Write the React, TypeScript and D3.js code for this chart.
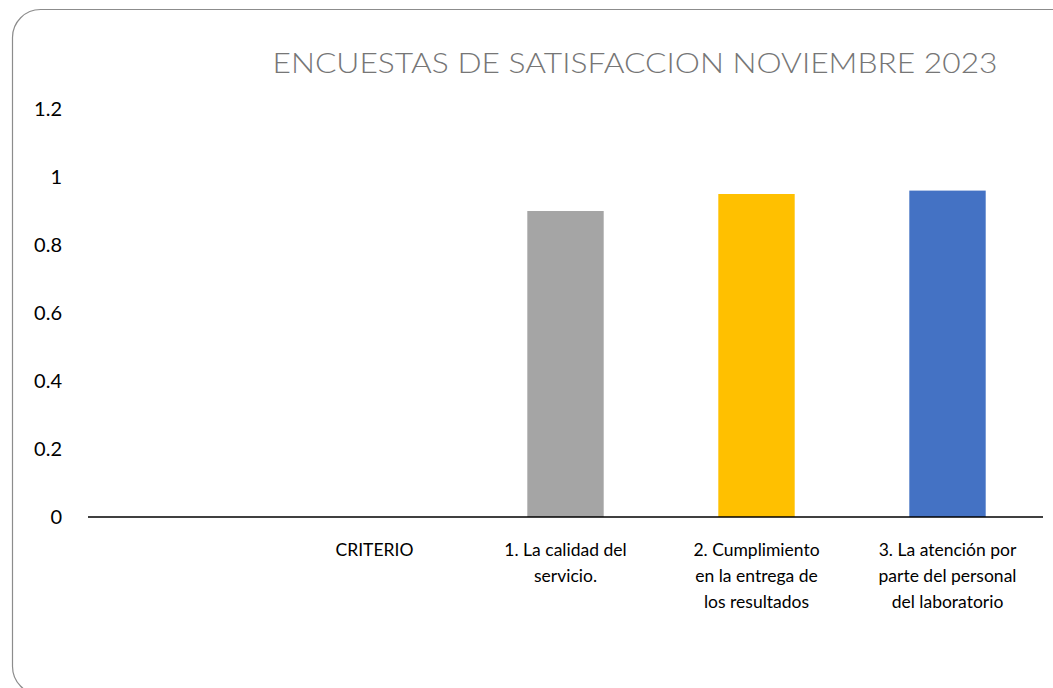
import React from "react";
import * as d3 from "d3";

const categories = ["", "CRITERIO", "1. La calidad del servicio.", "2. Cumplimiento en la entrega de los resultados", "3. La atención por parte del personal del laboratorio"];
const categoryLines = [[""], ["CRITERIO"], ["1. La calidad del", "servicio."], ["2. Cumplimiento", "en la entrega de", "los resultados"], ["3. La atención por", "parte del personal", "del laboratorio"]];
const values: (number | null)[] = [null, null, 0.9, 0.95, 0.96];
const barColors = ["#A5A5A5", "#A5A5A5", "#A5A5A5", "#FFC000", "#4472C4"];
const yTicks = [0, 0.2, 0.4, 0.6, 0.8, 1, 1.2];
const title = "ENCUESTAS DE SATISFACCION NOVIEMBRE 2023";

export default function App() {
  const W = 1053, H = 688;
  const font = "Lato, 'Noto Sans', sans-serif";
  const x = d3.scaleBand<string>().domain(categories).range([88, 1043]).paddingInner(0.6).paddingOuter(0.3);
  const y = d3.scaleLinear().domain([0, 1.2]).range([517, 109]);
  return (
    <svg width={W} height={H} style={{ position: "absolute", left: 0, top: 0 }} fontFamily={font}>
      <rect x={0} y={0} width={W} height={H} fill="#fff" />
      <rect x={12.5} y={9.5} width={1100} height={685} rx={28} ry={28} fill="#fff" stroke="#8c8c8c" strokeWidth={1.2} />
      <text x={635} y={73} textAnchor="middle" fontSize={28} fontWeight={300} fill="#767676" textLength={725} lengthAdjust="spacingAndGlyphs">{title}</text>
      {yTicks.map((t) => (
        <text key={t} x={62} y={y(t)} dy="0.35em" textAnchor="end" fontSize={20} fill="#000">{d3.format("")(t)}</text>
      ))}
      {categories.map((c, i) => {
        const v = values[i];
        if (v == null) return null;
        return <rect key={c} x={x(c)!} y={y(v)} width={x.bandwidth()} height={y(0) - y(v)} fill={barColors[i]} />;
      })}
      <line x1={88} x2={1043} y1={y(0)} y2={y(0)} stroke="#000" strokeWidth={1.3} />
      {categories.map((c, i) => (
        <text key={"l" + i} x={x(c)! + x.bandwidth() / 2} y={556} textAnchor="middle" fontSize={17.5} fill="#000">
          {categoryLines[i].map((ln, j) => (
            <tspan key={j} x={x(c)! + x.bandwidth() / 2} dy={j === 0 ? 0 : 26}>{ln}</tspan>
          ))}
        </text>
      ))}
    </svg>
  );
}
